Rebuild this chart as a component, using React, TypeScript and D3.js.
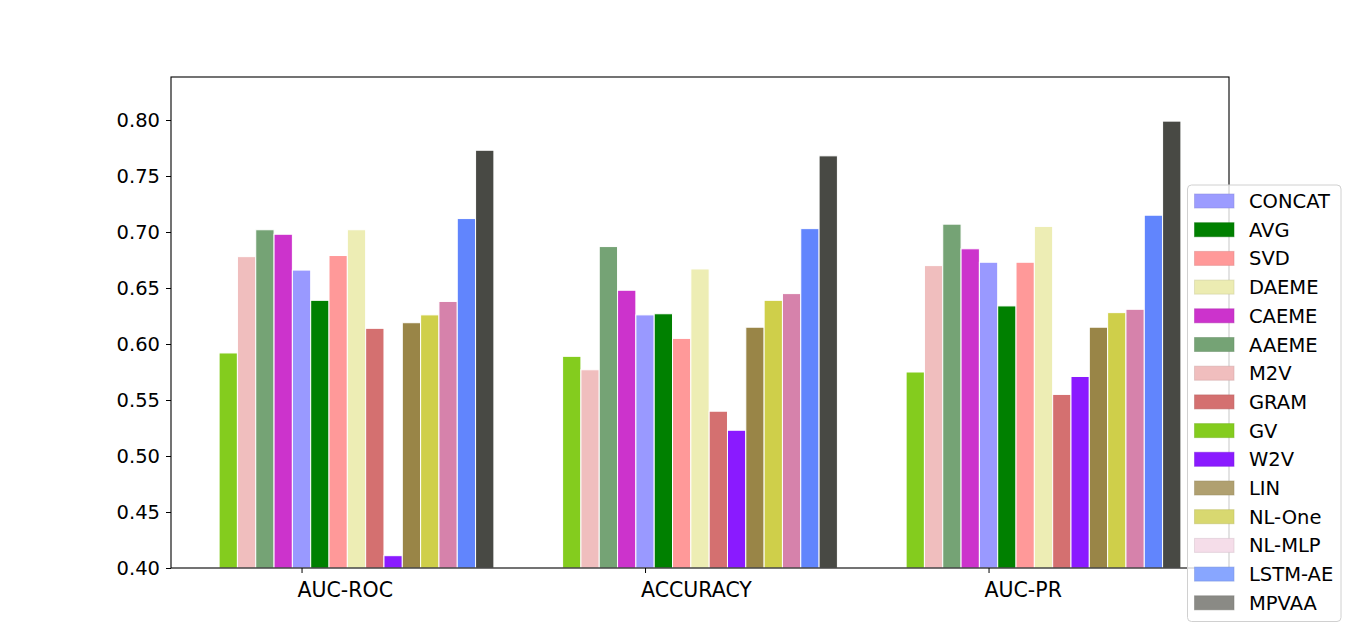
import React, { useEffect, useRef } from 'react';
import * as d3 from 'd3';

// metric groups on the x axis
const metrics = ['AUC-ROC', 'ACCURACY', 'AUC-PR'];

// methods in the order their bars are drawn inside a group
const methods = ['GV', 'M2V', 'AAEME', 'CAEME', 'CONCAT', 'AVG', 'SVD', 'DAEME', 'GRAM', 'W2V', 'LIN', 'NL-One', 'NL-MLP', 'LSTM-AE', 'MPVAA'];

const barColors = ['#84cc1e', '#f0bebe', '#75a375', '#cc33cc', '#9999ff', '#008000', '#ff9999', '#ededb4', '#d47070', '#8a1aff', '#998547', '#cfcf4a', '#d682ab', '#6185fd', '#484944'];

// scores per method: [AUC-ROC, ACCURACY, AUC-PR]
const GV = [0.592, 0.589, 0.575];
const M2V = [0.678, 0.577, 0.670];
const AAEME = [0.702, 0.687, 0.707];
const CAEME = [0.698, 0.648, 0.685];
const CONCAT = [0.666, 0.626, 0.673];
const AVG = [0.639, 0.627, 0.634];
const SVD = [0.679, 0.605, 0.673];
const DAEME = [0.702, 0.667, 0.705];
const GRAM = [0.614, 0.540, 0.555];
const W2V = [0.411, 0.523, 0.571];
const LIN = [0.619, 0.615, 0.615];
const NLOne = [0.626, 0.639, 0.628];
const NLMLP = [0.638, 0.645, 0.631];
const LSTMAE = [0.712, 0.703, 0.715];
const MPVAA = [0.773, 0.768, 0.799];

const series = [GV, M2V, AAEME, CAEME, CONCAT, AVG, SVD, DAEME, GRAM, W2V, LIN, NLOne, NLMLP, LSTMAE, MPVAA];

// legend order and patch colours as they appear in the legend
const legendNames = ['CONCAT', 'AVG', 'SVD', 'DAEME', 'CAEME', 'AAEME', 'M2V', 'GRAM', 'GV', 'W2V', 'LIN', 'NL-One', 'NL-MLP', 'LSTM-AE', 'MPVAA'];
const legendColors = ['#9c9cff', '#008000', '#ff9999', '#ececb2', '#cc33cc', '#75a375', '#f0bebe', '#d47070', '#84cc1e', '#8a1aff', '#b0a070', '#d8d870', '#f5dde9', '#88a6ff', '#8a8a85'];

const yTicks = [0.4, 0.45, 0.5, 0.55, 0.6, 0.65, 0.7, 0.75, 0.8];

const FONT = 'DejaVu Sans, sans-serif';

const App: React.FC = () => {
  const ref = useRef<SVGSVGElement>(null);

  useEffect(() => {
    if (ref.current) drawChart(ref.current);
  }, []);

  return (
    <svg
      ref={ref}
      width={1366}
      height={638}
      style={{ position: 'absolute', left: 0, top: 0, background: '#fff' }}
    />
  );
};

const drawChart = (node: SVGSVGElement) => {
  const svg = d3.select(node);
  svg.selectAll('*').remove();

  const left = 171;
  const right = 1229;
  const top = 77;
  const bottom = 568;

  const w = 0.8 / methods.length;
  const lo = -w / 2;
  const hi = metrics.length - 1 + (methods.length - 0.5) * w;
  const pad = (hi - lo) * 0.05;

  const x = d3.scaleLinear().domain([lo - pad, hi + pad]).range([left, right]);
  const y = d3.scaleLinear().domain([0.4, 0.4 + (bottom - top) / 1120]).range([bottom, top]);

  const bars = svg.append('g');
  methods.forEach((m, i) => {
    bars
      .append('g')
      .selectAll('rect')
      .data(series[i])
      .enter()
      .append('rect')
      .attr('x', (_, g) => x(g + i * w - w / 2))
      .attr('width', x(w) - x(0))
      .attr('y', (d) => y(d))
      .attr('height', (d) => y(0.4) - y(d))
      .attr('fill', barColors[i])
      .attr('stroke', '#fff')
      .attr('stroke-width', 1);
  });

  // y axis
  const yAxisG = svg.append('g').attr('transform', `translate(${left},0)`);
  yAxisG.call(
    d3
      .axisLeft(y)
      .tickValues(yTicks)
      .tickFormat(d3.format('.2f'))
      .tickSize(5)
      .tickPadding(6)
  );
  yAxisG.select('.domain').remove();
  yAxisG.selectAll('text').style('font-size', '19.5px').style('font-family', FONT).attr('fill', '#000');

  // x axis ticks
  const xAxisG = svg.append('g').attr('transform', `translate(0,${bottom})`);
  xAxisG.call(
    d3
      .axisBottom(x)
      .tickValues(metrics.map((_, g) => g + 4 * w))
      .tickFormat(() => '')
      .tickSize(5)
  );
  xAxisG.select('.domain').remove();

  svg
    .append('g')
    .selectAll('text')
    .data(metrics)
    .enter()
    .append('text')
    .attr('x', (_, g) => x(g + 4 * w) - 4)
    .attr('y', 597)
    .attr('font-family', FONT)
    .attr('font-size', '20.5px')
    .attr('fill', '#000')
    .text((d) => d);

  // frame
  svg
    .append('rect')
    .attr('x', left)
    .attr('y', top)
    .attr('width', right - left)
    .attr('height', bottom - top)
    .attr('fill', 'none')
    .attr('stroke', '#000')
    .attr('stroke-width', 1.1);

  // legend
  const lg = svg.append('g');
  lg.append('rect')
    .attr('x', 1187.5)
    .attr('y', 185)
    .attr('width', 153.5)
    .attr('height', 436.5)
    .attr('rx', 4)
    .attr('fill', '#fff')
    .attr('fill-opacity', 0.8)
    .attr('stroke', '#d0d0d0')
    .attr('stroke-width', 1);

  const rowH = 28.7;
  const rows = lg
    .selectAll('g.item')
    .data(legendNames)
    .enter()
    .append('g')
    .attr('class', 'item')
    .attr('transform', (_, i) => `translate(0,${201 + i * rowH})`);

  rows
    .append('rect')
    .attr('x', 1194.5)
    .attr('y', -7)
    .attr('width', 39.5)
    .attr('height', 14)
    .attr('fill', (_, i) => legendColors[i])
    .attr('stroke', (_, i) => d3.color(legendColors[i])!.darker(0.4).formatHex())
    .attr('stroke-opacity', 0.5)
    .attr('stroke-width', 1);

  rows
    .append('text')
    .attr('x', 1249)
    .attr('y', 7)
    .attr('font-family', FONT)
    .attr('font-size', '19.5px')
    .attr('fill', '#000')
    .text((d) => d);
};

export default App;
